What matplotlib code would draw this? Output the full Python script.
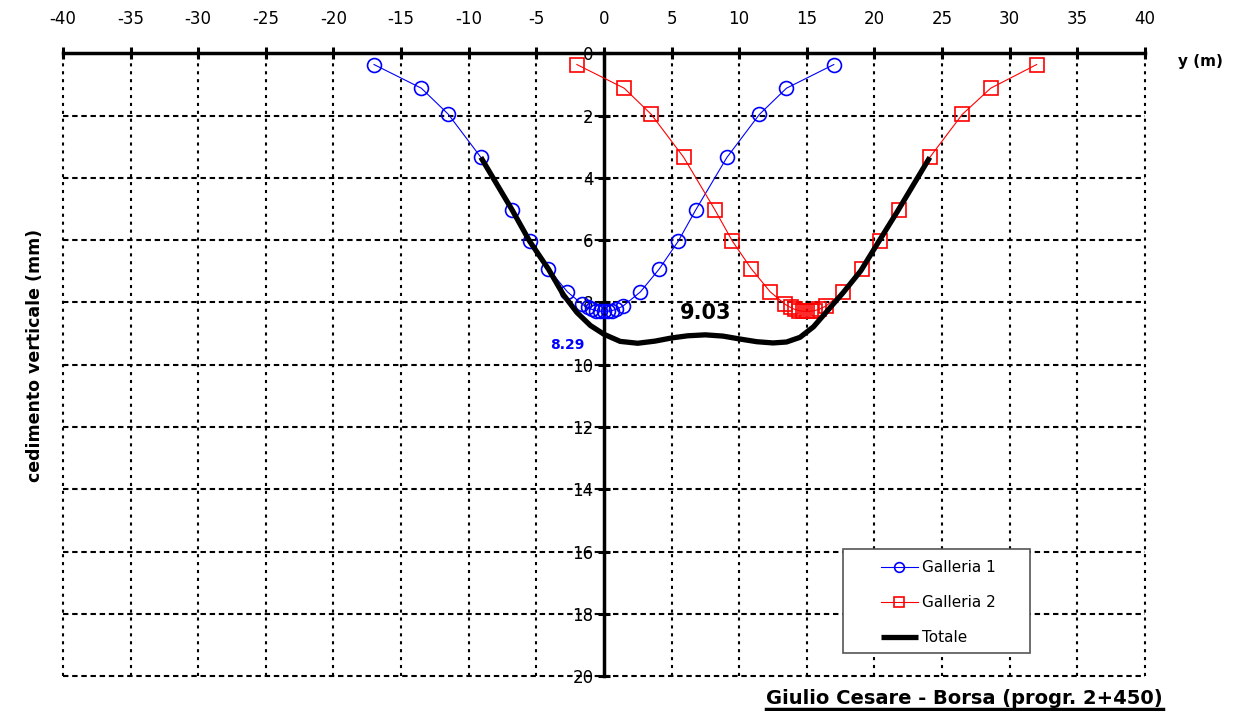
import matplotlib
matplotlib.use("Agg")
from matplotlib import pyplot as plt
from matplotlib.lines import Line2D
from matplotlib.patches import Rectangle

plt.rcParams['axes.unicode_minus'] = False

# Galleria 1 (blue circles)
x_g1 = [-17.0, -13.5, -11.5, -9.1, -6.8, -5.5, -4.1, -2.7, -1.6, -1.2, -0.9, -0.6, -0.3, 0.0,
        0.3, 0.6, 0.9, 1.4, 2.7, 4.1, 5.5, 6.8, 9.1, 11.5, 13.5, 17.0]
y_g1 = [0.36, 1.12, 1.96, 3.34, 5.02, 6.03, 6.92, 7.66, 8.06, 8.16, 8.22, 8.26, 8.28, 8.29,
        8.28, 8.26, 8.22, 8.12, 7.66, 6.92, 6.03, 5.02, 3.34, 1.96, 1.12, 0.36]

# Galleria 2 (red squares)
x_g2 = [-2.0, 1.5, 3.5, 5.9, 8.2, 9.5, 10.9, 12.3, 13.4, 13.8, 14.1, 14.4, 14.7, 15.0,
        15.3, 15.6, 15.9, 16.4, 17.7, 19.1, 20.4, 21.8, 24.1, 26.5, 28.6, 32.0]
y_g2 = y_g1

# Totale
x_tot = [-9.1, -6.8, -5.5, -4.1, -3.0, -2.0, -1.0, 0.0, 1.2, 2.5, 3.8, 5.0, 6.2, 7.5, 8.8,
         10.0, 11.3, 12.5, 13.5, 14.5, 15.5, 16.5, 17.7, 19.0, 20.3, 21.7, 24.1]
y_tot = [3.34, 5.02, 6.03, 6.93, 7.75, 8.32, 8.74, 9.02, 9.25, 9.31, 9.24, 9.14, 9.07, 9.04, 9.08,
         9.17, 9.26, 9.30, 9.27, 9.12, 8.78, 8.28, 7.68, 6.98, 6.06, 5.08, 3.34]

x_ticks = list(range(-40, 41, 5))
y_ticks = list(range(0, 21, 2))

fig = plt.figure(figsize=(12.35, 7.11), dpi=100)
ax = fig.add_axes([0.051, 0.049, 0.876, 0.876])
ax.set_xlim(-40, 40)
ax.set_ylim(20, 0)

# dotted grid drawn by hand (spines sit on x=0 and y=0)
for xv in x_ticks:
    if xv != 0:
        ax.axvline(xv, color='black', lw=1.5, linestyle=(0, (1.5, 2.3)), zorder=1, clip_on=False)
for yv in y_ticks:
    if yv != 0:
        ax.axhline(yv, color='black', lw=1.5, linestyle=(0, (2.6, 1.8)), zorder=1, clip_on=False)

ax.plot(x_g1, y_g1, color='blue', lw=0.8, marker='o', markersize=10,
        markerfacecolor='none', markeredgewidth=1.2, label='Galleria 1', zorder=3)
ax.plot(x_g2, y_g2, color='red', lw=0.8, marker='s', markersize=10,
        markerfacecolor='none', markeredgewidth=1.2, label='Galleria 2', zorder=3)
ax.plot(x_tot, y_tot, color='black', lw=3.8, label='Totale', zorder=4,
        solid_capstyle='butt', solid_joinstyle='round')

ax.spines['right'].set_visible(False)
ax.spines['bottom'].set_visible(False)
ax.spines['left'].set_position(('data', 0))
ax.spines['left'].set_linewidth(2.5)
ax.spines['top'].set_linewidth(2.5)
ax.spines['left'].set_zorder(2)

ax.xaxis.tick_top()
ax.set_xticks(x_ticks)
ax.set_yticks(y_ticks)
ax.tick_params(axis='x', direction='inout', length=9, width=2.2, labelsize=12, pad=14)
ax.tick_params(axis='y', direction='inout', length=9, width=2.2, labelsize=12, pad=3)

ax.text(7.5, 8.35, '9.03', fontsize=15, fontweight='bold', ha='center', va='center', zorder=5)
ax.text(-2.7, 9.35, '8.29', fontsize=10, fontweight='bold', color='blue', ha='center', va='center', zorder=5)

# legend frame drawn separately to match the wide box
ax.add_patch(Rectangle((0.7209, 0.037), 0.1728, 0.167, transform=ax.transAxes,
                       facecolor='white', edgecolor='#555555', lw=1.2, zorder=6))
leg = ax.legend(loc='upper left', bbox_to_anchor=(0.756, 0.186), fontsize=11, frameon=False,
                labelspacing=1.3, handlelength=2.4, handletextpad=0.3, borderpad=0,
                borderaxespad=0, markerscale=0.7)
leg.set_zorder(7)

fig.text(0.028, 0.5, 'cedimento verticale (mm)', rotation=90, fontsize=12.5,
         fontweight='bold', ha='center', va='center')
fig.text(0.972, 0.913, 'y (m)', fontsize=11, fontweight='bold', ha='center', va='center')

title = fig.text(0.781, 0.018, 'Giulio Cesare - Borsa (progr. 2+450)', fontsize=14,
                 fontweight='bold', ha='center', va='center')
fig.canvas.draw()
bb = title.get_window_extent().transformed(fig.transFigure.inverted())
fig.add_artist(Line2D([bb.x0, bb.x1], [bb.y0 - 0.002, bb.y0 - 0.002], color='black',
                      lw=2.5, transform=fig.transFigure))

fig.savefig('out.png', dpi=100)
